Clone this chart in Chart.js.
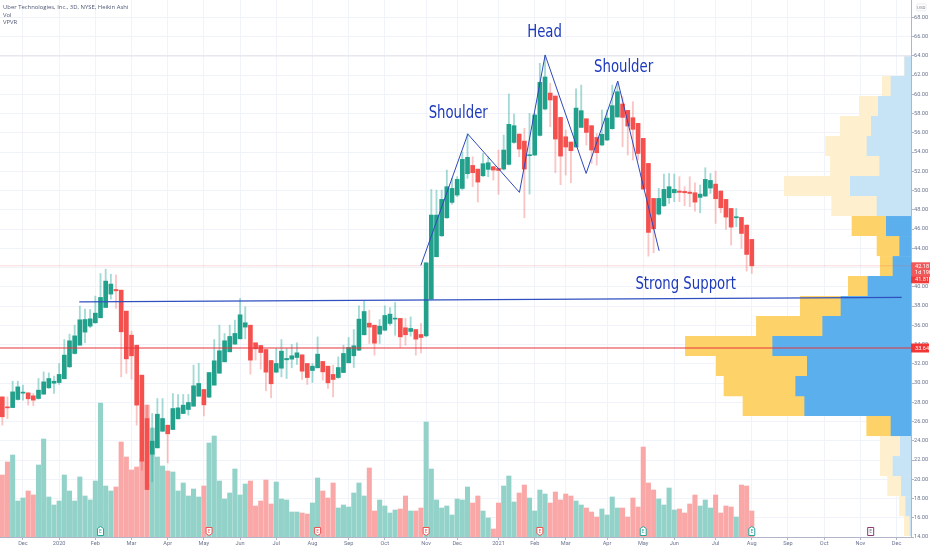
<!DOCTYPE html>
<html><head><meta charset="utf-8">
<script src="https://cdn.jsdelivr.net/npm/chart.js@4"></script>
<style>html,body{margin:0;padding:0;background:#fff}canvas{display:block}</style>
</head><body><canvas id="c" width="932" height="550"></canvas>
<script>
const opens=[28.56,27.52,27.45,28.29,28.95,28.98,28.67,28.39,28.84,29.50,
29.98,30.05,30.44,31.68,33.07,33.93,35.29,35.91,36.26,36.78,
37.85,39.24,39.72,39.65,37.47,34.97,33.93,30.82,26.31,22.60,
23.26,24.99,25.62,25.17,26.28,26.83,27.25,27.59,28.63,29.33,
28.53,29.78,31.02,32.20,33.24,34.04,34.59,35.81,36.01,34.18,
33.90,33.48,32.34,31.13,31.54,32.41,32.48,32.65,32.93,32.03,
31.30,31.58,32.24,31.75,30.89,30.57,31.09,32.10,32.83,33.41,
35.01,36.22,36.01,35.08,35.49,36.19,36.64,36.71,35.74,35.36,
35.56,35.04,34.90,38.72,43.12,45.30,47.17,48.77,49.53,50.22,
51.75,52.61,52.23,51.54,52.20,52.48,52.30,52.23,52.72,55.00,
55.87,55.14,53.62,53.69,55.73,58.47,60.13,59.82,57.60,55.59,
55.04,54.52,56.56,57.46,56.74,55.52,54.73,55.25,56.43,57.64,
58.99,58.33,57.57,56.98,55.42,52.82,49.18,47.55,48.42,49.25,
49.77,49.95,49.91,49.84,49.77,49.29,49.43,50.26,50.67,49.95,
49.08,48.14,47.17,47.21,46.41,44.92];
const highs=[28.56,28.56,30.19,30.19,29.78,28.98,28.91,30.47,31.16,31.06,
30.71,32.03,34.52,35.08,36.01,37.99,37.68,37.64,39.03,41.38,
41.83,41.31,41.21,39.65,37.47,35.39,33.93,30.82,27.70,26.83,
28.39,28.39,25.62,28.91,28.81,28.81,28.81,31.86,32.03,29.33,
31.09,34.52,36.01,35.15,36.01,36.53,38.79,37.92,36.01,34.18,
33.90,33.48,32.34,33.59,34.52,33.59,34.00,34.18,32.93,32.03,
32.03,34.80,32.24,31.75,31.86,32.72,33.93,34.73,35.56,38.02,
38.51,37.57,36.01,36.60,38.02,37.85,38.37,36.71,36.71,36.88,
35.56,36.19,42.49,50.12,50.05,50.05,52.13,51.26,51.44,54.03,
55.94,53.51,52.23,53.86,53.51,52.48,54.21,55.77,60.03,57.95,
55.87,56.46,58.02,58.02,63.22,64.08,61.14,59.82,57.60,56.29,
55.04,60.58,60.96,57.46,56.74,55.94,58.37,58.37,60.96,61.14,
59.75,58.33,59.23,56.98,55.42,52.82,49.18,50.22,51.71,51.78,
51.71,51.44,50.40,51.44,50.81,50.57,52.37,51.78,52.02,49.95,
49.08,48.14,48.14,47.21,46.41,44.92];
const lows=[25.62,26.31,27.45,28.22,28.22,27.70,27.63,28.32,28.84,29.43,
28.91,29.85,30.44,31.61,33.00,33.93,34.18,35.74,36.19,36.78,
37.85,38.72,37.75,30.64,30.99,30.40,25.62,20.94,18.93,19.73,
23.26,24.93,21.70,25.17,26.28,26.83,26.66,27.59,28.63,26.59,
28.49,29.78,31.02,32.20,33.24,34.04,34.59,34.59,30.92,32.38,
31.44,29.19,28.46,31.06,30.64,30.47,31.58,31.93,30.37,29.85,
30.05,31.58,30.30,29.43,28.56,30.47,31.09,32.10,31.61,33.35,
35.01,34.11,32.90,34.11,35.42,36.01,34.97,33.69,33.93,34.87,
32.90,33.14,34.80,38.72,43.12,45.20,47.10,48.59,49.36,50.05,
51.26,50.40,48.80,51.44,51.44,51.09,49.60,52.13,52.65,54.90,
53.51,47.17,49.63,53.62,55.66,58.37,56.63,51.85,50.60,51.61,
50.81,54.52,56.56,54.73,52.82,52.65,54.66,55.18,56.36,57.64,
54.55,53.69,53.17,53.17,50.15,43.19,43.54,47.45,48.32,48.66,
48.84,48.84,48.42,48.32,47.87,47.69,49.36,49.70,46.58,47.69,
45.96,44.33,46.24,43.99,41.63,41.39];
const closes=[26.49,27.42,29.08,29.60,29.05,28.36,28.22,29.26,30.12,30.47,
30.19,30.89,32.90,34.39,34.90,36.57,36.60,36.67,37.26,38.89,
40.59,40.28,39.58,35.32,32.51,32.83,27.70,21.88,18.93,23.96,
26.76,26.31,24.72,27.35,27.42,27.70,27.98,29.71,29.95,27.73,
31.09,32.31,33.35,34.39,34.84,35.15,37.09,36.26,32.38,33.55,
33.17,31.13,29.92,32.03,33.31,32.55,32.83,33.14,31.23,30.57,
31.75,33.00,31.16,30.02,30.37,31.61,33.07,33.69,33.87,36.64,
37.43,35.81,34.14,35.91,37.02,37.16,36.74,34.80,35.01,35.67,
34.56,34.73,42.49,47.45,47.45,49.08,50.40,50.22,51.16,53.24,
53.45,51.85,50.88,52.79,52.89,52.13,52.09,54.21,56.88,56.74,
54.31,52.23,53.72,57.85,61.24,61.80,59.41,55.35,53.58,54.52,
54.14,58.57,58.30,56.04,54.21,53.93,55.84,57.53,58.82,60.27,
57.60,56.70,56.36,53.86,50.15,45.65,46.03,49.18,50.12,50.40,
50.12,49.81,49.77,49.70,48.80,49.63,51.16,51.05,49.15,48.21,
47.24,46.20,47.28,45.54,43.36,42.18];
const volumes=[62,75,82,36,39,46,42,72,98,40,
32,36,62,46,36,60,41,37,56,134,
51,46,50,95,80,67,70,77,132,109,
80,71,66,65,46,54,41,48,40,51,
94,101,56,38,44,68,42,53,56,31,
36,57,33,55,38,37,25,25,24,23,
34,59,46,39,54,29,32,30,44,54,
41,69,26,37,31,24,27,28,41,26,
26,29,115,68,37,29,31,22,38,37,
50,34,41,26,19,8,34,51,61,35,
44,52,39,26,47,43,34,45,37,43,
41,36,32,29,25,20,28,22,40,29,
29,20,39,30,90,54,47,38,32,49,
27,28,24,33,42,31,37,29,42,24,
31,30,20,52,51,26];
const monthIndex=[4,11,18,25,32,39,46,53,60,67,74,82,88,96,103,109,117,124,130,138,145,152,159,166,173];
const monthLabels=["Dec","2020","Feb","Mar","Apr","May","Jun","Jul","Aug","Sep","Oct","Nov","Dec","2021","Feb","Mar","Apr","May","Jun","Jul","Aug","Sep","Oct","Nov","Dec"];
const priceTicks=[14,16,18,20,22,24,26,28,30,32,34,36,38,40,42,44,46,48,50,52,54,56,58,60,62,64,66,68];
const profilePrice=[62.94,60.86,58.78,56.70,54.62,52.55,50.47,48.39,46.31,44.23,42.15,40.08,38.00,35.92,33.84,31.76,29.68,27.61,25.53,23.45,21.37,19.29,17.21,15.14];
const profileUp=[6.3,20,32.7,39.7,44,31.3,60.7,34,24.7,11.3,18,43,70,88.3,138.3,103.7,115.3,106.3,20,10.7,18,9.7,5.3,1];
const profileDown=[0.5,8.7,19,31,41.3,49.3,66,45.3,34.3,22.7,12.7,19.7,40.7,66.3,87.3,91,71.7,61.7,24.3,20,12.7,13.7,6.3,5.7];
const profileStrong=[0,0,0,0,0,0,0,0,1,1,1,1,1,1,1,1,1,1,1,0,0,0,0,0];
const patternIndex=[80.97,90.06,100.05,105.02,112.95,119.07,127.07];
const patternPrice=[42.22,55.87,49.81,64.08,51.78,61.38,43.74];
const supportIndex=[14.9,174];
const supportPrice=[38.44,38.90];
const notePrice=33.64, lastPrice=42.18, highLine=64.0;
const noteTexts=["Head","Shoulder","Shoulder","Strong Support"];
const noteIndex=[104.9,88.2,120.2,132.2];
const notePrices=[66.47,58.05,62.78,40.28];
const earnIndex=[19,40,61,82,104,124,145,168];
const earnKind=["g","r","r","r","r","g","g","n"];
const legendLines=["Uber Technologies, Inc., 3D, NYSE, Heikin Ashi","Vol","VPVR"];

const GREEN="#21a08c",RED="#f4504e";
const isUp=opens.map((o,i)=>closes[i]>=o);
const XMIN=-0.445,XMAX=175.8;

const overlay={id:"overlay",afterDraw(ch){
  const c=ch.ctx,xs=ch.scales.x,ys=ch.scales.y;
  c.save();
  // annotations
  c.fillStyle="#1c39bb";c.textAlign="center";c.textBaseline="middle";
  c.font="18px 'DejaVu Sans Condensed','DejaVu Sans',sans-serif";
  noteTexts.forEach((t,i)=>{
    c.save();
    c.translate(xs.getPixelForValue(noteIndex[i]),ys.getPixelForValue(notePrices[i]));
    c.scale(0.82,1);
    c.fillText(t,0,0);
    c.restore();
  });
  // legend
  c.textAlign="left";c.fillStyle="#4f5875";c.font="5.9px 'Open Sans',sans-serif";
  legendLines.forEach((t,i)=>c.fillText(t,3,7.5+i*7.6));
  // earnings flags
  earnIndex.forEach((k,i)=>{
    const x=xs.getPixelForValue(k),kind=earnKind[i];
    const col=kind==="g"?"#26a69a":kind==="r"?"#ef5350":"#8a3b6f";
    const t=527.5,b=535.5;
    c.beginPath();
    if(kind==="g"){c.moveTo(x,t-1);c.lineTo(x+3,t+1);c.lineTo(x+3,b);c.lineTo(x-3,b);c.lineTo(x-3,t+1);}
    else if(kind==="r"){c.moveTo(x-3,t);c.lineTo(x+3,t);c.lineTo(x+3,b-2);c.lineTo(x,b);c.lineTo(x-3,b-2);}
    else{c.rect(x-3,t,6,8);}
    c.closePath();c.fillStyle="#fff";c.fill();c.strokeStyle=col;c.lineWidth=1;c.stroke();
    c.fillStyle=kind==="n"?"#6a6f8a":col;c.font="5px 'Open Sans',sans-serif";c.textAlign="center";c.fillText("E",x,t+4);
  });
  // price tags
  const px=ys.getPixelForValue(lastPrice),nx=ys.getPixelForValue(notePrice);
  c.textAlign="left";c.font="5.6px Roboto,sans-serif";
  c.fillStyle="#f2595a";c.fillRect(911,px-3.5,19,14.5);
  c.fillStyle="#f03b3b";c.fillRect(911,px+10.5,18,7);
  c.fillStyle="#fff";c.fillText("42.18",915,px+.3);c.fillText("1d 19h",915,px+6.5);c.fillText("41.81",915,px+14);
  c.fillStyle="#f23535";c.fillRect(911,nx-4.5,18,9);
  c.fillStyle="#fff";c.fillText("33.64",915,nx+.3);
  // currency
  c.strokeStyle="#e0e3eb";c.lineWidth=.7;c.beginPath();c.roundRect(916.5,4,9.5,6.8,1.5);c.stroke();
  c.fillStyle="#787b86";c.font="4.4px Roboto,sans-serif";c.textAlign="center";c.fillText("USD",921.2,7.5);
  c.restore();
}};

new Chart(document.getElementById("c"),{
  type:"bar",
  plugins:[overlay],
  data:{datasets:[
    {type:"line",order:1,data:patternIndex.map((x,i)=>({x,y:patternPrice[i]})),borderColor:"#2f48b8",borderWidth:1,pointRadius:0,tension:0,xAxisID:"x",yAxisID:"y"},
    {type:"line",order:1,data:supportIndex.map((x,i)=>({x,y:supportPrice[i]})),borderColor:"#3050c0",borderWidth:1.3,pointRadius:0,tension:0,xAxisID:"x",yAxisID:"y"},
    {type:"line",order:1,data:[{x:XMIN,y:notePrice},{x:XMAX,y:notePrice}],borderColor:"#e8333a",borderWidth:1.2,pointRadius:0,xAxisID:"x",yAxisID:"y"},
    {type:"bar",order:2,grouped:false,barThickness:4,data:opens.map((o,i)=>({x:i,y:[o,closes[i]]})),backgroundColor:isUp.map(u=>u?GREEN:RED),borderWidth:0,minBarLength:1,xAxisID:"x",yAxisID:"y"},
    {type:"bar",order:3,grouped:false,barThickness:1.2,data:highs.map((h,i)=>({x:i,y:[lows[i],h]})),backgroundColor:isUp.map(u=>u?"rgba(38,166,154,.42)":"rgba(239,83,80,.33)"),borderWidth:0,xAxisID:"x",yAxisID:"y"},
    {type:"line",order:4,data:[{x:XMIN,y:lastPrice},{x:XMAX,y:lastPrice}],borderColor:"rgba(239,83,80,.22)",borderWidth:1,pointRadius:0,xAxisID:"x",yAxisID:"y"},
    {type:"line",order:4,data:[{x:XMIN,y:highLine},{x:XMAX,y:highLine}],borderColor:"#e6e8ee",borderWidth:1.5,pointRadius:0,xAxisID:"x",yAxisID:"y"},
    {type:"bar",order:5,grouped:false,barThickness:4.4,data:volumes.map((v,i)=>({x:i,y:v})),backgroundColor:isUp.map(u=>u?"#93d2c9":"#f9a8a7"),borderWidth:0,xAxisID:"x",yAxisID:"yVol"},
    {type:"bar",order:6,indexAxis:"y",grouped:false,barThickness:19.4,data:profilePrice.map((p,i)=>({y:p,x:[0,profileUp[i]]})),backgroundColor:profileStrong.map(s=>s?"#5bafed":"#c7e4f7"),borderWidth:0,xAxisID:"xVP",yAxisID:"y"},
    {type:"bar",order:6,indexAxis:"y",grouped:false,barThickness:19.4,data:profilePrice.map((p,i)=>({y:p,x:[profileUp[i],profileUp[i]+profileDown[i]]})),backgroundColor:profileStrong.map(s=>s?"#fdd369":"#fef0ce"),borderWidth:0,xAxisID:"xVP",yAxisID:"y"}
  ]},
  options:{
    responsive:false,animation:false,devicePixelRatio:1,
    layout:{padding:0},
    plugins:{legend:{display:false},tooltip:{enabled:false}},
    scales:{
      x:{type:"linear",position:"bottom",offset:false,min:XMIN,max:XMAX,
        afterBuildTicks(s){s.ticks=monthIndex.map(value=>({value}));},
        afterFit(s){s.height=13;s.paddingLeft=0;s.paddingRight=0;},
        grid:{offset:false,color:"#f0f3fa",tickLength:3,tickColor:"#b2b5c8"},
        border:{color:"#b2b5c8",width:1},
        ticks:{autoSkip:false,maxRotation:0,padding:0,color:"#6c7590",font:{family:"Roboto",size:5.6},
          callback(v,i){return monthLabels[i];}}},
      y:{type:"linear",position:"right",offset:false,min:14,max:69.8,
        afterBuildTicks(s){s.ticks=priceTicks.map(value=>({value}));},
        afterFit(s){s.width=21;s.paddingTop=0;s.paddingBottom=0;},
        grid:{offset:false,color:"#f0f3fa",tickLength:3,tickColor:"#b2b5c8"},
        border:{color:"#b2b5c8",width:1},
        ticks:{autoSkip:false,padding:0,color:"#6c7590",font:{family:"Roboto",size:5.6},
          callback(v){return Number(v).toFixed(2);}}},
      yVol:{type:"linear",display:false,offset:false,min:0,max:537},
      xVP:{type:"linear",display:false,offset:false,min:0,max:911,reverse:true}
    }
  }
});
</script></body></html>
